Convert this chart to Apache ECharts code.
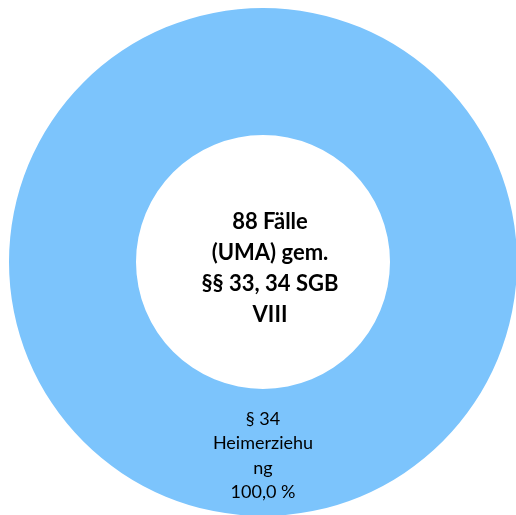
<!DOCTYPE html>
<html>
<head>
<meta charset="utf-8">
<script src="https://cdn.jsdelivr.net/npm/echarts@6/dist/echarts.min.js"></script>
<style>html,body{margin:0;padding:0;background:#fff}#c{width:516px;height:515px}</style>
</head>
<body>
<div id="c"></div>
<script>
const categories = ['§ 34 Heimerziehung'];
const values = [88];
const labelLines = [['§ 34', 'Heimerziehu', 'ng']];
const centerLines = ['88 Fälle', '(UMA) gem.', '§§ 33, 34 SGB', 'VIII'];
const colors = ['#7cc4fc'];

const total = values.reduce((a, b) => a + b, 0);
const chart = echarts.init(document.getElementById('c'), null, {renderer: 'canvas'});
chart.setOption({
  animation: false,
  backgroundColor: '#fff',
  color: colors,
  graphic: [{
    type: 'text',
    x: 270,
    y: 206,
    style: {
      text: centerLines.join('\n'),
      align: 'center',
      verticalAlign: 'top',
      fontFamily: 'Lato',
      fontWeight: 'bold',
      fontSize: 22,
      fill: '#000',
      lineHeight: 31
    }
  }],
  series: [{
    type: 'pie',
    center: [263, 262],
    radius: [127, 254],
    startAngle: 90,
    clockwise: true,
    silent: true,
    label: {
      show: true,
      position: 'inside',
      color: '#000',
      fontFamily: 'Lato',
      fontSize: 18,
      lineHeight: 24.5,
      formatter: p => labelLines[p.dataIndex].join('\n') + '\n' +
        (p.value / total * 100).toFixed(1).replace('.', ',') + ' %'
    },
    labelLine: {show: false},
    data: categories.map((n, i) => ({name: n, value: values[i]}))
  }]
});
</script>
</body>
</html>
